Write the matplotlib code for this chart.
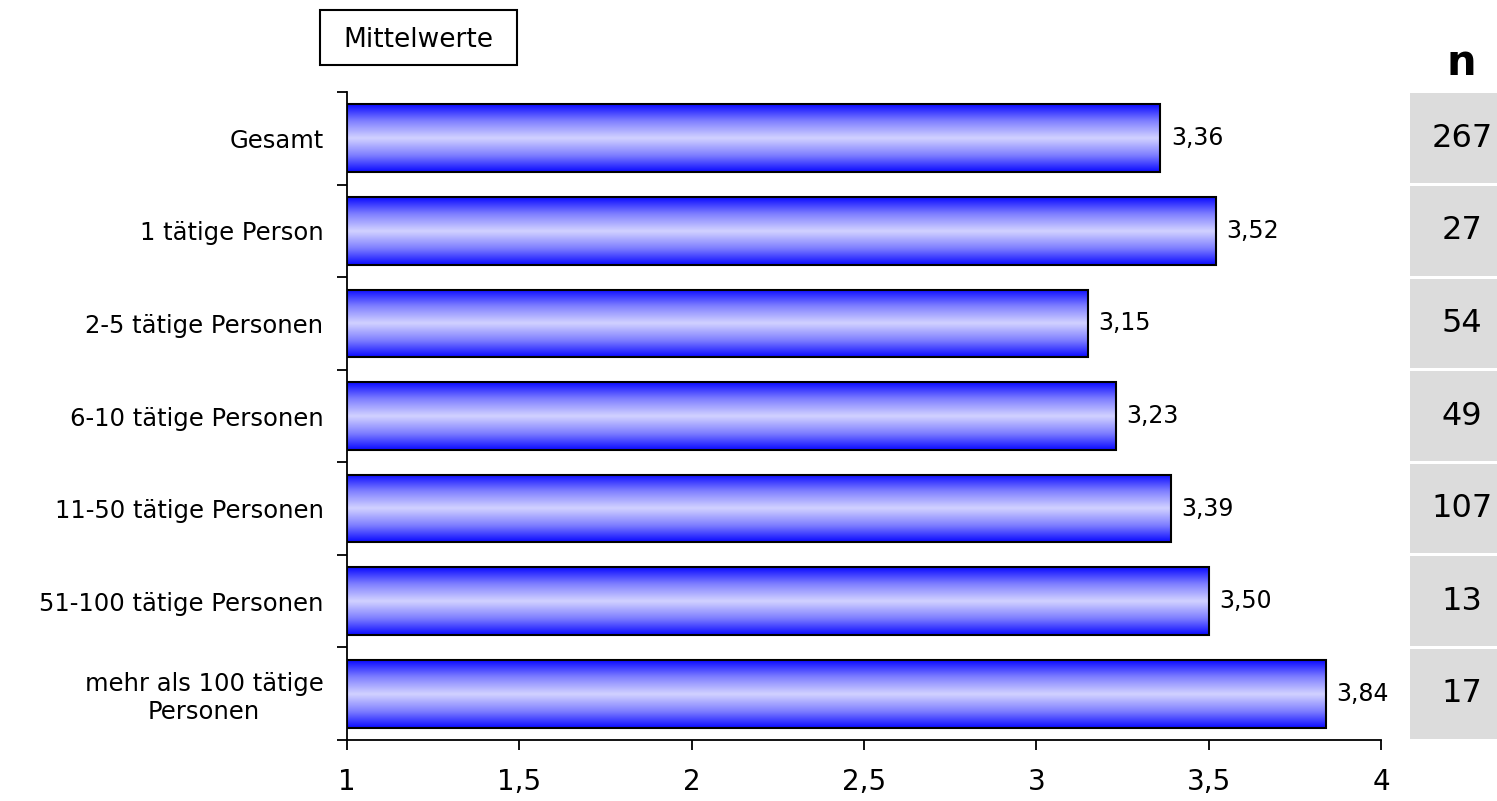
import numpy as np
import matplotlib.pyplot as plt
from matplotlib.colors import LinearSegmentedColormap
from matplotlib.patches import Rectangle

categories = ["Gesamt", "1 tätige Person", "2-5 tätige Personen", "6-10 tätige Personen",
              "11-50 tätige Personen", "51-100 tätige Personen", "mehr als 100 tätige\nPersonen"]
means = [3.36, 3.52, 3.15, 3.23, 3.39, 3.50, 3.84]
n_values = [267, 27, 54, 49, 107, 13, 17]
xticks = [1, 1.5, 2, 2.5, 3, 3.5, 4]
xticklabels = ["1", "1,5", "2", "2,5", "3", "3,5", "4"]

plt.rcParams['font.family'] = ['DejaVu Sans']

fig = plt.figure(figsize=(14.97, 8.01), dpi=100)
ax = fig.add_axes([347/1497, 1-740/801, (1381-347)/1497, (740-92)/801])

cmap = LinearSegmentedColormap.from_list("bar", ["#0a0aff", "#8080ff", "#d2d2ff", "#8080ff", "#0a0aff"])
grad = np.linspace(0, 1, 256).reshape(-1, 1)
h = 0.73
ypos = np.arange(len(categories))
for y, v in zip(ypos, means):
    ax.imshow(grad, cmap=cmap, aspect='auto', extent=(1, v, y + h/2, y - h/2),
              interpolation='bicubic', zorder=2)
ax.barh(ypos, [v - 1 for v in means], left=1, height=h, facecolor='none',
        edgecolor='black', linewidth=1.5, zorder=3)
for y, v in zip(ypos, means):
    ax.text(v + 0.03, y, f"{v:.2f}".replace(".", ","), va='center', ha='left', fontsize=17)

ax.set_xlim(1, 4)
ax.set_ylim(len(categories) - 0.5, -0.5)
ax.set_xticks(xticks)
ax.set_xticklabels(xticklabels, fontsize=20)
ax.set_yticks(ypos)
ax.set_yticklabels(categories, fontsize=17.5, linespacing=1.2)
for lab in ax.get_yticklabels():
    lab.set_multialignment('center')
ax.set_yticks(np.arange(-0.5, len(categories)), minor=True)
ax.tick_params(axis='y', which='major', length=0, pad=17)
ax.tick_params(axis='y', which='minor', length=7, width=1.3, direction='out')
ax.tick_params(axis='x', length=7, width=1.3, direction='out', pad=13)
for s in ['top', 'right']:
    ax.spines[s].set_visible(False)
ax.spines['left'].set_linewidth(1.3)
ax.spines['bottom'].set_linewidth(1.3)

# n column
nax = fig.add_axes([1410/1497, 1-740/801, 87/1497, (740-92)/801])
nax.set_xlim(0, 1)
nax.set_ylim(len(categories) - 0.5, -0.5)
nax.axis('off')
for y, n in zip(ypos, n_values):
    nax.add_patch(Rectangle((0, y - 0.485), 1, 0.97, facecolor='#dcdcdc', edgecolor='none'))
    nax.text(0.6, y, str(n), ha='center', va='center', fontsize=23)
fig.text(1461/1497, 1-63/801, "n", ha='center', va='center', fontsize=30, fontweight='bold')

# Mittelwerte box
fig.patches.append(Rectangle((320/1497, 1-65/801), 197/1497, 55/801, transform=fig.transFigure,
                             facecolor='white', edgecolor='black', linewidth=1.5))
fig.text(418/1497, 1-40/801, "Mittelwerte", ha='center', va='center', fontsize=19)

fig.savefig("out.png", dpi=100)
